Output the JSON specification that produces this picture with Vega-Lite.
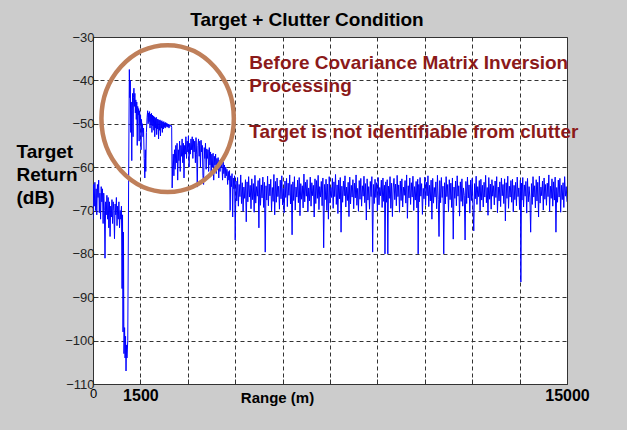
{
  "$schema": "https://vega.github.io/schema/vega-lite/v6.json",
  "autosize": {"type": "none"},
  "width": 474,
  "height": 347,
  "padding": {"left": 93, "top": 37, "right": 60, "bottom": 46},
  "background": "#cccccc",
  "title": {"text": "Target + Clutter Condition", "font": "Liberation Sans", "fontSize": 19, "fontWeight": "bold", "color": "#000000", "offset": 1, "dx": -23},
  "config": {"view": {"fill": "#ffffff", "stroke": "#333333", "strokeWidth": 1}},
  "datasets": {
    "sig": [
      {"r":0,"v":-72},{"r":20,"v":-64},{"r":40,"v":-69},{"r":60,"v":-63.5},{"r":80,"v":-70},{"r":100,"v":-65},{"r":120,"v":-71},{"r":140,"v":-64},{"r":160,"v":-67},{"r":180,"v":-63},{"r":200,"v":-70.5},{"r":220,"v":-66},{"r":240,"v":-72},{"r":260,"v":-64.5},{"r":280,"v":-68},{"r":300,"v":-65},{"r":320,"v":-73},{"r":340,"v":-66},{"r":360,"v":-70},{"r":380,"v":-81},{"r":400,"v":-68},{"r":420,"v":-71},{"r":440,"v":-66.5},{"r":460,"v":-72},{"r":480,"v":-67},{"r":500,"v":-74},{"r":520,"v":-68},{"r":540,"v":-76},{"r":560,"v":-69},{"r":580,"v":-71.5},{"r":600,"v":-67.5},{"r":620,"v":-73},{"r":640,"v":-68},{"r":660,"v":-70},{"r":680,"v":-76.5},{"r":700,"v":-68.5},{"r":720,"v":-71},{"r":740,"v":-67},{"r":760,"v":-73.5},{"r":780,"v":-69},{"r":800,"v":-72},{"r":820,"v":-68},{"r":840,"v":-74},{"r":860,"v":-70},{"r":880,"v":-72},{"r":900,"v":-69},
      {"r":920,"v":-88},{"r":935,"v":-71},{"r":950,"v":-98},{"r":965,"v":-75},{"r":980,"v":-103},{"r":1000,"v":-97},{"r":1015,"v":-104},{"r":1030,"v":-99},{"r":1045,"v":-107},{"r":1060,"v":-101},{"r":1075,"v":-104},{"r":1100,"v":-100},
      {"r":1130,"v":-60},{"r":1150,"v":-37.5},{"r":1165,"v":-44},{"r":1180,"v":-40},{"r":1195,"v":-52},{"r":1210,"v":-45},{"r":1227,"v":-58.5},{"r":1240,"v":-47},{"r":1255,"v":-43},{"r":1268,"v":-53},{"r":1280,"v":-44},{"r":1295,"v":-41.8},{"r":1310,"v":-46},{"r":1325,"v":-43},{"r":1340,"v":-47.5},{"r":1355,"v":-44.5},{"r":1370,"v":-49},{"r":1385,"v":-45},{"r":1400,"v":-55},{"r":1415,"v":-46},{"r":1430,"v":-48},{"r":1445,"v":-46.5},{"r":1460,"v":-54},{"r":1475,"v":-47},{"r":1490,"v":-50},{"r":1505,"v":-48},{"r":1520,"v":-56},{"r":1535,"v":-49},{"r":1550,"v":-52},{"r":1565,"v":-50},{"r":1580,"v":-53},{"r":1600,"v":-51},{"r":1620,"v":-58},{"r":1640,"v":-62.5},{"r":1655,"v":-56},{"r":1670,"v":-61},{"r":1690,"v":-52},{"r":1712,"v":-48.5},
      {"r":1730,"v":-47},{"r":1745,"v":-50},{"r":1760,"v":-47.5},{"r":1775,"v":-49.5},{"r":1790,"v":-47.2},{"r":1805,"v":-51},{"r":1820,"v":-47.8},{"r":1835,"v":-50.2},{"r":1850,"v":-47.6},{"r":1865,"v":-52},{"r":1880,"v":-48},{"r":1895,"v":-50.5},{"r":1910,"v":-48.2},{"r":1925,"v":-51.5},{"r":1940,"v":-48.4},{"r":1955,"v":-53},{"r":1970,"v":-48.7},{"r":1985,"v":-51},{"r":2000,"v":-48.5},{"r":2015,"v":-52.5},{"r":2030,"v":-48.9},{"r":2045,"v":-51.2},{"r":2060,"v":-49},{"r":2075,"v":-53.5},{"r":2090,"v":-49.2},{"r":2105,"v":-51.5},{"r":2120,"v":-49.1},{"r":2135,"v":-52.8},{"r":2150,"v":-49.4},{"r":2165,"v":-51},{"r":2180,"v":-49.3},{"r":2195,"v":-52},{"r":2210,"v":-49.6},{"r":2225,"v":-51.2},{"r":2240,"v":-49.5},{"r":2255,"v":-50.8},{"r":2270,"v":-49.8},{"r":2285,"v":-51},{"r":2300,"v":-49.7},{"r":2315,"v":-50.6},{"r":2330,"v":-49.9},{"r":2345,"v":-50.8},{"r":2360,"v":-50},{"r":2375,"v":-50.7},{"r":2390,"v":-50.1},{"r":2405,"v":-51},{"r":2420,"v":-50.2},{"r":2440,"v":-50.6},{"r":2470,"v":-50.3},{"r":2490,"v":-50.8},{"r":2505,"v":-64.8},
      {"r":2520,"v":-60},{"r":2540,"v":-57},{"r":2560,"v":-62},{"r":2580,"v":-56},{"r":2600,"v":-60.5},{"r":2620,"v":-55},{"r":2640,"v":-59},{"r":2660,"v":-54.5},{"r":2680,"v":-63},{"r":2700,"v":-56},{"r":2720,"v":-58.5},{"r":2740,"v":-54},{"r":2760,"v":-61},{"r":2780,"v":-55},{"r":2800,"v":-57.5},{"r":2820,"v":-53.5},{"r":2840,"v":-59},{"r":2860,"v":-54.5},{"r":2880,"v":-62.5},{"r":2900,"v":-55},{"r":2920,"v":-57},{"r":2940,"v":-53},{"r":2960,"v":-58},{"r":2980,"v":-54},{"r":3000,"v":-56.5},{"r":3020,"v":-52.8},{"r":3040,"v":-60},{"r":3060,"v":-54.5},{"r":3080,"v":-57},{"r":3100,"v":-53.5},{"r":3120,"v":-56},{"r":3140,"v":-53},{"r":3160,"v":-58},{"r":3180,"v":-53.6},{"r":3200,"v":-56.5},{"r":3220,"v":-54},{"r":3240,"v":-59},{"r":3260,"v":-53.2},{"r":3280,"v":-57},{"r":3300,"v":-64.6},{"r":3320,"v":-55},{"r":3340,"v":-53.5},{"r":3360,"v":-57.5},{"r":3380,"v":-54},{"r":3400,"v":-60},{"r":3420,"v":-53.8},{"r":3440,"v":-56.5},{"r":3460,"v":-55},{"r":3480,"v":-62},{"r":3500,"v":-64},{"r":3520,"v":-55.5},{"r":3540,"v":-58},{"r":3560,"v":-54.5},{"r":3580,"v":-60.5},{"r":3600,"v":-55.8},{"r":3620,"v":-58},{"r":3640,"v":-56},{"r":3660,"v":-61},{"r":3680,"v":-55.5},{"r":3700,"v":-59.5},{"r":3720,"v":-56.5},{"r":3740,"v":-62},{"r":3760,"v":-57},{"r":3780,"v":-60},{"r":3800,"v":-56.8},{"r":3820,"v":-63},{"r":3840,"v":-57.5},{"r":3860,"v":-59.5},{"r":3880,"v":-57},{"r":3900,"v":-61.5},{"r":3920,"v":-58},{"r":3940,"v":-60.5},{"r":3960,"v":-57.8},{"r":3980,"v":-62.5},{"r":4000,"v":-58.5},{"r":4020,"v":-61},{"r":4040,"v":-58.2},{"r":4060,"v":-60},{"r":4080,"v":-59},{"r":4100,"v":-63},{"r":4120,"v":-58.8},{"r":4140,"v":-61.5},{"r":4160,"v":-59.5},{"r":4180,"v":-62.5},{"r":4200,"v":-60},{"r":4220,"v":-62},{"r":4240,"v":-60.5},{"r":4260,"v":-64},{"r":4280,"v":-61},{"r":4300,"v":-63},{"r":4320,"v":-60.8},{"r":4340,"v":-70},{"r":4360,"v":-62},{"r":4380,"v":-64.5},{"r":4400,"v":-61.5},{"r":4420,"v":-71.5},{"r":4440,"v":-62.5},{"r":4460,"v":-65},{"r":4480,"v":-62},{"r":4500,"v":-76.8},
      {"r":4525,"v":-63.2},{"r":4550,"v":-67.8},{"r":4575,"v":-62.4},{"r":4600,"v":-69},{"r":4625,"v":-64},{"r":4650,"v":-66.8},{"r":4675,"v":-61.8},{"r":4700,"v":-68.4},{"r":4725,"v":-63.6},{"r":4750,"v":-70.2},{"r":4775,"v":-64.6},{"r":4800,"v":-67.2},{"r":4825,"v":-62.9},{"r":4850,"v":-72.6},{"r":4875,"v":-63.4},{"r":4900,"v":-68},{"r":4925,"v":-62.2},{"r":4950,"v":-66.9},{"r":4975,"v":-64.2},{"r":5000,"v":-69.6},
      {"r":5025,"v":-62.7},{"r":5050,"v":-67.5},{"r":5075,"v":-63.8},{"r":5100,"v":-70.4},{"r":5125,"v":-61.9},{"r":5150,"v":-68.3},{"r":5175,"v":-64.5},{"r":5200,"v":-66.7},{"r":5225,"v":-63.1},{"r":5250,"v":-74},{"r":5275,"v":-62.6},{"r":5300,"v":-68.8},{"r":5325,"v":-64.1},{"r":5350,"v":-67.1},{"r":5375,"v":-62.3},{"r":5400,"v":-69.3},{"r":5425,"v":-63.5},{"r":5450,"v":-79.6},{"r":5475,"v":-64.3},{"r":5500,"v":-67.6},
      {"r":5525,"v":-62.1},{"r":5550,"v":-68.9},{"r":5575,"v":-63.9},{"r":5600,"v":-66.6},{"r":5625,"v":-62.8},{"r":5650,"v":-70.1},{"r":5675,"v":-64.7},{"r":5700,"v":-67.9},{"r":5725,"v":-61.7},{"r":5750,"v":-71},{"r":5775,"v":-63.3},{"r":5800,"v":-68.1},{"r":5825,"v":-62.5},{"r":5850,"v":-66.8},{"r":5875,"v":-64.4},{"r":5900,"v":-69.7},{"r":5925,"v":-63},{"r":5950,"v":-67.3},{"r":5975,"v":-62},{"r":6000,"v":-68.7},
      {"r":6025,"v":-64.9},{"r":6050,"v":-70.5},{"r":6075,"v":-63.2},{"r":6100,"v":-67},{"r":6125,"v":-62.6},{"r":6150,"v":-69.1},{"r":6175,"v":-63.7},{"r":6200,"v":-66.5},{"r":6225,"v":-61.8},{"r":6250,"v":-68.5},{"r":6275,"v":-64},{"r":6300,"v":-75.6},{"r":6325,"v":-63.4},{"r":6350,"v":-67.7},{"r":6375,"v":-62.2},{"r":6400,"v":-69.9},{"r":6425,"v":-64.6},{"r":6450,"v":-66.9},{"r":6475,"v":-63},{"r":6500,"v":-68.2},
      {"r":6525,"v":-62.4},{"r":6550,"v":-71.2},{"r":6575,"v":-63.8},{"r":6600,"v":-67.4},{"r":6625,"v":-64.3},{"r":6650,"v":-69.4},{"r":6675,"v":-61.6},{"r":6700,"v":-68},{"r":6725,"v":-63.5},{"r":6750,"v":-66.7},{"r":6775,"v":-62.9},{"r":6800,"v":-70.3},{"r":6825,"v":-64.8},{"r":6850,"v":-67.8},{"r":6875,"v":-62.3},{"r":6900,"v":-69},{"r":6925,"v":-63.6},{"r":6950,"v":-66.6},{"r":6975,"v":-64.2},{"r":7000,"v":-71.5},
      {"r":7025,"v":-62.7},{"r":7050,"v":-68.4},{"r":7075,"v":-63.1},{"r":7100,"v":-67.2},{"r":7125,"v":-61.9},{"r":7150,"v":-69.8},{"r":7175,"v":-64.5},{"r":7200,"v":-66.9},{"r":7225,"v":-63.3},{"r":7250,"v":-68.9},{"r":7275,"v":-62.5},{"r":7300,"v":-78.6},{"r":7325,"v":-64},{"r":7350,"v":-67.5},{"r":7375,"v":-62.8},{"r":7400,"v":-70},{"r":7425,"v":-63.9},{"r":7450,"v":-72},{"r":7475,"v":-62.2},{"r":7500,"v":-68.3},
      {"r":7525,"v":-64.7},{"r":7550,"v":-67},{"r":7575,"v":-62.6},{"r":7600,"v":-69.5},{"r":7625,"v":-63.4},{"r":7650,"v":-66.8},{"r":7675,"v":-61.7},{"r":7700,"v":-68.6},{"r":7725,"v":-64.1},{"r":7750,"v":-70.7},{"r":7775,"v":-63},{"r":7800,"v":-67.3},{"r":7825,"v":-62.4},{"r":7850,"v":-75},{"r":7875,"v":-64.4},{"r":7900,"v":-68.1},{"r":7925,"v":-63.2},{"r":7950,"v":-66.6},{"r":7975,"v":-62},{"r":8000,"v":-69.2},
      {"r":8025,"v":-64.6},{"r":8050,"v":-67.7},{"r":8075,"v":-63.5},{"r":8100,"v":-71.4},{"r":8125,"v":-62.3},{"r":8150,"v":-68.5},{"r":8175,"v":-64.2},{"r":8200,"v":-66.9},{"r":8225,"v":-62.9},{"r":8250,"v":-69.6},{"r":8275,"v":-63.7},{"r":8300,"v":-67.1},{"r":8325,"v":-61.8},{"r":8350,"v":-68.8},{"r":8375,"v":-64.9},{"r":8400,"v":-70.2},{"r":8425,"v":-63.1},{"r":8450,"v":-67.4},{"r":8475,"v":-62.6},{"r":8500,"v":-69},
      {"r":8525,"v":-64.3},{"r":8550,"v":-66.7},{"r":8575,"v":-62.1},{"r":8600,"v":-68.2},{"r":8625,"v":-63.8},{"r":8650,"v":-72.2},{"r":8675,"v":-62.7},{"r":8700,"v":-67.6},{"r":8725,"v":-64.5},{"r":8750,"v":-69.7},{"r":8775,"v":-63.3},{"r":8800,"v":-66.8},{"r":8825,"v":-62.2},{"r":8850,"v":-79.6},{"r":8875,"v":-64},{"r":8900,"v":-68.4},{"r":8925,"v":-62.8},{"r":8950,"v":-67},{"r":8975,"v":-63.6},{"r":9000,"v":-70.1},
      {"r":9025,"v":-62.4},{"r":9050,"v":-68.7},{"r":9075,"v":-64.7},{"r":9100,"v":-66.6},{"r":9125,"v":-63},{"r":9150,"v":-69.3},{"r":9175,"v":-62.5},{"r":9200,"v":-67.9},{"r":9225,"v":-64.2},{"r":9240,"v":-80},{"r":9265,"v":-63.4},{"r":9290,"v":-68.1},{"r":9310,"v":-62.9},{"r":9330,"v":-80},{"r":9350,"v":-64.4},{"r":9375,"v":-67.2},{"r":9400,"v":-62.2},{"r":9425,"v":-69.5},{"r":9450,"v":-63.7},{"r":9475,"v":-71.4},{"r":9500,"v":-64.8},
      {"r":9525,"v":-62.6},{"r":9550,"v":-67.5},{"r":9575,"v":-63.9},{"r":9600,"v":-68.9},{"r":9625,"v":-61.9},{"r":9650,"v":-66.8},{"r":9675,"v":-64.1},{"r":9700,"v":-70.4},{"r":9725,"v":-63.2},{"r":9750,"v":-67.7},{"r":9775,"v":-62.7},{"r":9800,"v":-69.2},{"r":9825,"v":-64.6},{"r":9850,"v":-66.5},{"r":9875,"v":-63.1},{"r":9900,"v":-68.3},{"r":9925,"v":-61.8},{"r":9950,"v":-71.8},{"r":9975,"v":-64.3},{"r":10000,"v":-67.1},
      {"r":10025,"v":-62.5},{"r":10050,"v":-68.6},{"r":10075,"v":-63.6},{"r":10100,"v":-66.9},{"r":10125,"v":-62.1},{"r":10150,"v":-70},{"r":10175,"v":-64.5},{"r":10200,"v":-67.6},{"r":10225,"v":-63.3},{"r":10250,"v":-69.4},{"r":10275,"v":-62.8},{"r":10290,"v":-80},{"r":10310,"v":-64},{"r":10325,"v":-68},{"r":10350,"v":-62.4},{"r":10375,"v":-66.7},{"r":10400,"v":-63.8},{"r":10425,"v":-70.9},{"r":10450,"v":-64.9},{"r":10475,"v":-67.3},{"r":10500,"v":-62.3},
      {"r":10525,"v":-68.8},{"r":10550,"v":-63.5},{"r":10575,"v":-66.6},{"r":10600,"v":-62},{"r":10625,"v":-69.1},{"r":10650,"v":-64.2},{"r":10675,"v":-67.8},{"r":10700,"v":-63},{"r":10725,"v":-72},{"r":10750,"v":-62.6},{"r":10775,"v":-68.3},{"r":10800,"v":-64.7},{"r":10825,"v":-66.9},{"r":10850,"v":-63.4},{"r":10875,"v":-69.6},{"r":10900,"v":-61.9},{"r":10925,"v":-67.4},{"r":10950,"v":-76},{"r":10975,"v":-63.1},{"r":11000,"v":-68.2},
      {"r":11025,"v":-62.4},{"r":11050,"v":-67},{"r":11075,"v":-64.4},{"r":11100,"v":-80},{"r":11125,"v":-63.6},{"r":11150,"v":-68.5},{"r":11175,"v":-62.2},{"r":11200,"v":-66.8},{"r":11225,"v":-64},{"r":11250,"v":-70.3},{"r":11275,"v":-62.9},{"r":11300,"v":-67.5},{"r":11325,"v":-63.7},{"r":11350,"v":-69.3},{"r":11375,"v":-62.5},{"r":11400,"v":-76.6},{"r":11425,"v":-64.6},{"r":11450,"v":-67.2},{"r":11475,"v":-63.2},{"r":11500,"v":-68.9},
      {"r":11525,"v":-62},{"r":11550,"v":-66.7},{"r":11575,"v":-64.3},{"r":11600,"v":-71.3},{"r":11625,"v":-63.4},{"r":11650,"v":-67.9},{"r":11675,"v":-62.7},{"r":11700,"v":-69},{"r":11725,"v":-64.8},{"r":11750,"v":-66.6},{"r":11775,"v":-76.8},{"r":11800,"v":-63.3},{"r":11825,"v":-68.4},{"r":11850,"v":-62.3},{"r":11875,"v":-67.1},{"r":11900,"v":-64.1},{"r":11925,"v":-70.6},{"r":11950,"v":-63},{"r":11975,"v":-67.7},{"r":12000,"v":-62.6},
      {"r":12025,"v":-69.4},{"r":12050,"v":-74.7},{"r":12075,"v":-63.8},{"r":12100,"v":-67.3},{"r":12125,"v":-62.1},{"r":12150,"v":-68.6},{"r":12175,"v":-64.5},{"r":12200,"v":-66.8},{"r":12225,"v":-63.1},{"r":12250,"v":-70.1},{"r":12275,"v":-62.8},{"r":12300,"v":-67.6},{"r":12325,"v":-64.2},{"r":12350,"v":-69.2},{"r":12375,"v":-63.5},{"r":12400,"v":-66.9},{"r":12425,"v":-61.9},{"r":12450,"v":-68.2},{"r":12475,"v":-64.7},{"r":12500,"v":-71.1},
      {"r":12525,"v":-62.4},{"r":12550,"v":-67.4},{"r":12575,"v":-63.9},{"r":12600,"v":-69.7},{"r":12625,"v":-62.9},{"r":12650,"v":-66.7},{"r":12675,"v":-64.3},{"r":12700,"v":-68.7},{"r":12725,"v":-63.2},{"r":12750,"v":-67},{"r":12775,"v":-62.2},{"r":12800,"v":-70.5},{"r":12825,"v":-64.6},{"r":12850,"v":-67.8},{"r":12875,"v":-63.4},{"r":12900,"v":-69.1},{"r":12925,"v":-62.5},{"r":12950,"v":-66.6},{"r":12975,"v":-64},{"r":13000,"v":-68.4},
      {"r":13025,"v":-62.7},{"r":13050,"v":-72.4},{"r":13075,"v":-63.6},{"r":13100,"v":-67.2},{"r":13125,"v":-62.1},{"r":13150,"v":-69.5},{"r":13175,"v":-64.4},{"r":13200,"v":-66.9},{"r":13225,"v":-63.1},{"r":13250,"v":-68.1},{"r":13275,"v":-62.8},{"r":13300,"v":-70.3},{"r":13325,"v":-64.2},{"r":13350,"v":-67.5},{"r":13375,"v":-63.5},{"r":13400,"v":-68.9},{"r":13425,"v":-62.3},{"r":13450,"v":-66.8},{"r":13475,"v":-64.8},{"r":13500,"v":-69.8},
      {"r":13525,"v":-63},{"r":13540,"v":-86.5},{"r":13560,"v":-63.7},{"r":13575,"v":-67.6},{"r":13600,"v":-62.4},{"r":13625,"v":-69.2},{"r":13650,"v":-64.1},{"r":13675,"v":-66.7},{"r":13700,"v":-63.3},{"r":13725,"v":-70.6},{"r":13750,"v":-62.6},{"r":13775,"v":-68},{"r":13800,"v":-64.5},{"r":13825,"v":-67.1},{"r":13850,"v":-75},{"r":13875,"v":-63.8},{"r":13900,"v":-68.6},{"r":13925,"v":-62.2},{"r":13950,"v":-66.9},{"r":13975,"v":-64.3},{"r":14000,"v":-69.4},
      {"r":14025,"v":-62.9},{"r":14050,"v":-67.8},{"r":14075,"v":-63.5},{"r":14100,"v":-71.5},{"r":14125,"v":-62.1},{"r":14150,"v":-68.3},{"r":14175,"v":-64.6},{"r":14200,"v":-66.6},{"r":14225,"v":-63.2},{"r":14250,"v":-69.9},{"r":14275,"v":-62.5},{"r":14300,"v":-67.4},{"r":14325,"v":-64},{"r":14350,"v":-68.8},{"r":14375,"v":-63.7},{"r":14400,"v":-66.8},{"r":14425,"v":-61.8},{"r":14450,"v":-70.2},{"r":14475,"v":-64.4},{"r":14500,"v":-67.2},
      {"r":14525,"v":-62.7},{"r":14550,"v":-69},{"r":14575,"v":-63.4},{"r":14600,"v":-67.6},{"r":14625,"v":-62.3},{"r":14650,"v":-75},{"r":14675,"v":-64.7},{"r":14700,"v":-68.1},{"r":14725,"v":-63},{"r":14750,"v":-66.9},{"r":14775,"v":-62.6},{"r":14800,"v":-70.4},{"r":14825,"v":-64.2},{"r":14850,"v":-67.5},{"r":14875,"v":-63.6},{"r":14900,"v":-69.3},{"r":14925,"v":-62.2},{"r":14950,"v":-66.7},{"r":14975,"v":-64.5},{"r":15000,"v":-68}
    ],
    "notes": [
      {"r": 4947, "v": -35.9, "t": "Before Covariance Matrix Inversion"},
      {"r": 4947, "v": -41.2, "t": "Processing"},
      {"r": 4947, "v": -51.9, "t": "Target is not identifiable from clutter"}
    ],
    "ring": [{"r": 2362, "v": -48.8}]
  },
  "encoding": {
    "x": {"field": "r", "type": "quantitative",
      "scale": {"domain": [0, 15000], "nice": false, "zero": false},
      "axis": {
        "values": [0,1500,3000,4500,6000,7500,9000,10500,12000,13500,15000],
        "grid": true, "gridColor": "#333333", "gridDash": [4,3], "gridWidth": 1, "gridOpacity": 1,
        "domain": false, "ticks": true, "tickSize": -5, "tickColor": "#333333", "tickWidth": 1,
        "labelExpr": "datum.value == 0 ? '0' : (datum.value == 1500 ? '1500' : (datum.value == 15000 ? '15000' : ''))",
        "labelFont": "Liberation Sans", "labelColor": "#000000",
        "labelFontSize": {"condition": {"test": "datum.value == 0", "value": 13}, "value": 16},
        "labelFontWeight": {"condition": {"test": "datum.value == 0", "value": "normal"}, "value": "bold"},
        "labelPadding": 8, "labelFlush": false, "labelOverlap": false,
        "title": "Range (m)", "titleFont": "Liberation Sans", "titleFontSize": 15, "titleFontWeight": "bold", "titleColor": "#000000",
        "titleX": 184, "titleY": 6, "titleBaseline": "top", "titleAnchor": "middle"
      }
    },
    "y": {"field": "v", "type": "quantitative",
      "scale": {"domain": [-110, -30], "nice": false, "zero": false},
      "axis": {
        "values": [-30,-40,-50,-60,-70,-80,-90,-100,-110],
        "grid": true, "gridColor": "#333333", "gridDash": [4,3], "gridWidth": 1, "gridOpacity": 1,
        "domain": false, "ticks": true, "tickSize": -5, "tickColor": "#333333",
        "labelFont": "Liberation Sans", "labelFontSize": 13, "labelColor": "#222222", "labelPadding": 4, "labelFlush": false,
        "title": ["Target", "Return", "(dB)"], "titleFont": "Liberation Sans", "titleFontSize": 19, "titleFontWeight": "bold", "titleColor": "#000000",
        "titleAngle": 0, "titleAlign": "left", "titleBaseline": "top", "titleX": -77, "titleY": 105, "titleLineHeight": 23
      }
    }
  },
  "layer": [
    {"data": {"name": "sig"}, "mark": {"type": "line", "color": "#0000ff", "strokeWidth": 1, "clip": true}},
    {"data": {"name": "ring"}, "mark": {"type": "point", "shape": "M -0.9025 0 A 0.9025 1 0 1 0 0.9025 0 A 0.9025 1 0 1 0 -0.9025 0 Z", "size": 21521, "filled": false, "stroke": "#bf7f5a", "strokeWidth": 4.5, "opacity": 1}},
    {"data": {"name": "notes"}, "mark": {"type": "text", "align": "left", "baseline": "middle", "font": "Liberation Sans", "fontSize": 19, "fontWeight": "bold", "color": "#8b1a1a"}, "encoding": {"text": {"field": "t"}}}
  ]
}
